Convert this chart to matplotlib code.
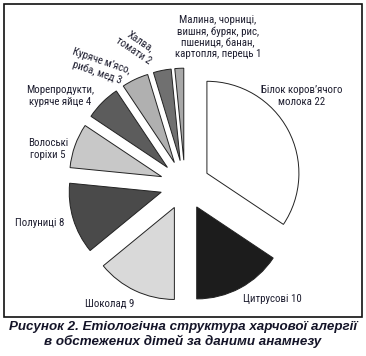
import matplotlib
matplotlib.use("Agg")
import matplotlib.pyplot as plt
from matplotlib.patches import Rectangle

categories = [
    "Білок коров'ячого молока",
    "Цитрусові",
    "Шоколад",
    "Полуниці",
    "Волоські горіхи",
    "Морепродукти, куряче яйце",
    "Куряче м'ясо, риба, мед",
    "Халва, томати",
    "Малина, чорниці, вишня, буряк, рис, пшениця, банан, картопля, перець",
]
values = [22, 10, 9, 8, 5, 4, 3, 2, 1]
colors = ["#ffffff", "#1c1c1c", "#d9d9d9", "#4a4a4a", "#c8c8c8",
          "#5c5c5c", "#b0b0b0", "#707070", "#a8a8a8"]
label_texts = [
    "Білок коров\u2019ячого\nмолока 22",
    "Цитрусові 10",
    "Шоколад 9",
    "Полуниці 8",
    "Волоські\nгоріхи 5",
    "Морепродукти,\nкуряче яйце 4",
    "Куряче м\u2019ясо,\nриба, мед 3",
    "Халва,\nтомати 2",
    "Малина, чорниці,\nвишня, буряк, рис,\nпшениця, банан,\nкартопля, перець 1",
]
caption = "Рисунок 2. Етіологічна структура харчової алергії\nв обстежених дітей за даними анамнезу"

W, H = 366, 356
fig = plt.figure(figsize=(W / 100, H / 100), dpi=100)
ax = fig.add_axes([0, 0, 1, 1])

R = 92
cx, cy = 185, H - 185
ax.pie(values, colors=colors, startangle=90, counterclock=False,
       center=(cx, cy), radius=R, explode=[0.27 * R] * len(values),
       wedgeprops=dict(edgecolor="#222222", linewidth=0.7))
ax.set_xlim(0, W)
ax.set_ylim(0, H)
ax.set_aspect("equal")
ax.axis("off")

ax.add_patch(Rectangle((3.5, H - 317), 358.5, 313, fill=False,
                       edgecolor="#111111", linewidth=1.2))

lab_font = dict(family=["Roboto Condensed", "DejaVu Sans"],
                fontsize=7.8, color="#1e1e30", ha="center", va="center",
                linespacing=1.15)
# label positions (image pixel coords) and rotations
pos = [
    (302, 96, 0),
    (272, 299, 0),
    (110, 303, 0),
    (40, 223, 0),
    (48, 149, 0),
    (60, 96, 0),
    (99, 67, -19),
    (137, 46, -34),
    (218, 37, 0),
]
for txt, (x, y, r) in zip(label_texts, pos):
    ax.text(x, H - y, txt, rotation=r, rotation_mode="anchor", **lab_font)

ax.text(W / 2, H - 334.5, caption, ha="center", va="center",
        family=["Liberation Sans", "DejaVu Sans"], fontsize=9.6,
        fontweight="bold", fontstyle="italic", color="#141428",
        linespacing=1.1)

fig.savefig("out.png", dpi=100)
